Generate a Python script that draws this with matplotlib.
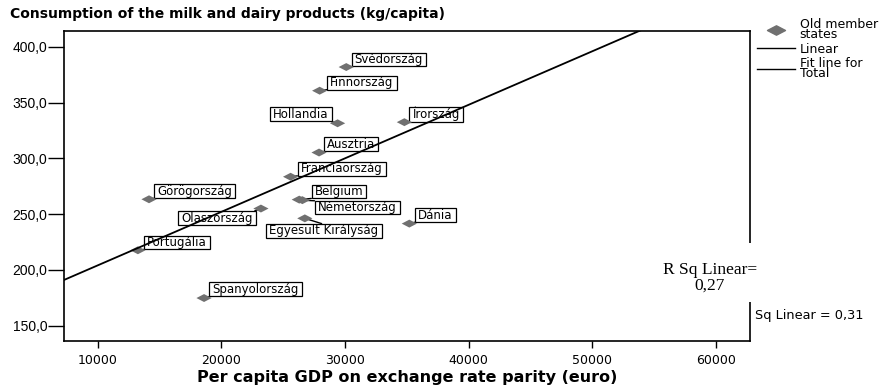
import matplotlib
matplotlib.use("Agg")
import matplotlib.pyplot as plt
from matplotlib.path import Path
from matplotlib.lines import Line2D
from matplotlib.patches import Rectangle
import numpy as np

# --- data -------------------------------------------------------------
countries = ['Svédország', 'Finnország', 'Hollandia', 'Írország', 'Ausztria',
             'Franciaország', 'Belgium', 'Németország', 'Egyesült Királyság',
             'Dánia', 'Görögország', 'Olaszország', 'Portugália', 'Spanyolország']
gdp_euro = [30100, 27950, 29400, 34800, 27900, 25600, 26300, 26550, 26750,
            35200, 14150, 23200, 13250, 18600]
milk_kg = [381.8, 360.6, 331.4, 332.4, 305.2, 283.5, 263.0, 262.5, 246.2,
           241.5, 263.3, 255.0, 217.6, 174.8]

# fit line for the total sample
fit_intercept = 156.1
fit_slope = 0.004797
rsq_old = '0,27'
rsq_total = '0,31'

x_ticks = [10000, 20000, 30000, 40000, 50000, 60000]
x_tick_labels = ['10000', '20000', '30000', '40000', '50000', '60000']
y_ticks = [150, 200, 250, 300, 350, 400]
y_tick_labels = ['150,0', '200,0', '250,0', '300,0', '350,0', '400,0']

# label layout: offset in pixels (dx, dy), text alignment, connector anchor on the box
label_offsets = [(8.4, 7.5), (10.6, 8), (-8.8, 9), (7.8, 8), (7.7, 8.3), (10.2, 7.8),
                 (15.5, 8), (15.7, -7.3), (19.2, -12.5), (8.7, 8.6), (8.1, 8.1),
                 (-8.2, -9.7), (9.2, 7.8), (8.3, 8.8)]
label_align = ['left', 'left', 'right', 'left', 'left', 'left', 'left', 'left',
               'center', 'left', 'left', 'right', 'left', 'left']
label_anchor = [(0, 0), (0, 0), (1, 0), (0, 0), (0, 0), (0, 0), (0, 0), (0, 1),
                (0.5, 1), (0, 0), (0, 0), (1, 1), (0, 0), (0, 0)]

# --- figure -----------------------------------------------------------
W, H = 888, 389
fig = plt.figure(figsize=(W / 100, H / 100), dpi=100)
fig.patch.set_facecolor('white')
ax = fig.add_axes([64 / W, 1 - 341 / H, (750 - 64) / W, (341 - 31) / H])

ax.set_xlim(7275, 62750)
ax.set_ylim(136.3, 414.1)

# flattened diamond marker
diamond = Path([(-1, 0), (0, 0.52), (1, 0), (0, -0.52), (-1, 0)],
               [Path.MOVETO, Path.LINETO, Path.LINETO, Path.LINETO, Path.CLOSEPOLY])
marker_color = '#707070'

sc = ax.scatter(gdp_euro, milk_kg, marker=diamond, s=120, color=marker_color,
                edgecolors='none', zorder=3)

# fit line
xs = np.array(ax.get_xlim())
ax.plot(xs, fit_intercept + fit_slope * xs, color='black', lw=1.3, zorder=4)


def label_box(x0, y0, width, height, mutation_size):
    """Rectangle with side padding and a tight vertical fit."""
    hp, vp = 3.0, 0.3
    xa, xb = x0 - hp, x0 + width + hp
    ya, yb = y0 - vp, y0 + height + vp
    return Path([(xa, ya), (xb, ya), (xb, yb), (xa, yb), (xa, ya)], closed=True)


# point labels
for name, gx, my, (dx, dy), ha, rp in zip(countries, gdp_euro, milk_kg,
                                          label_offsets, label_align, label_anchor):
    ax.annotate(name, xy=(gx, my), xytext=(dx, dy), textcoords='offset pixels',
                ha=ha, va='center', fontsize=8.5, family='DejaVu Sans',
                bbox=dict(boxstyle=label_box, fc='white', ec='black', lw=0.9),
                arrowprops=dict(arrowstyle='-', color='black', lw=1,
                                shrinkA=0, shrinkB=0, relpos=rp),
                zorder=2)

# axes styling
for sp in ax.spines.values():
    sp.set_linewidth(1.2)
ax.set_xticks(x_ticks)
ax.set_xticklabels(x_tick_labels, family='DejaVu Sans', fontsize=9)
ax.set_yticks(y_ticks)
ax.set_yticklabels(y_tick_labels, family='Liberation Sans', fontsize=10)
ax.tick_params(axis='y', length=11.5, width=1, pad=0.5, direction='out')
ax.tick_params(axis='x', length=5, width=1, pad=4, direction='out')

ax.set_xlabel('Per capita GDP on exchange rate parity (euro)', family='DejaVu Sans',
              fontweight='bold', fontsize=11.5, labelpad=2.5)

fig.text(10 / W, 1 - 14 / H, 'Consumption of the milk and dairy products (kg/capita)',
         ha='left', va='center', family='DejaVu Sans', fontweight='bold', fontsize=10)

# legend
handles = [
    Line2D([], [], marker=diamond, markersize=13, color=marker_color, ls='none'),
    Line2D([], [], color='black', lw=1),
    Line2D([], [], color='black', lw=1),
]
labels = ['Old member\nstates', 'Linear', 'Fit line for\nTotal']
leg = fig.legend(handles, labels, loc='upper left', bbox_to_anchor=(757 / W, 1 - 18 / H),
                 frameon=False, prop={'family': 'DejaVu Sans', 'size': 9},
                 handlelength=3.0, handletextpad=0.4, labelspacing=0.12,
                 borderpad=0, borderaxespad=0)
for t in leg.get_texts():
    t.set_linespacing(0.72)

# white panel behind the R squared note, interrupting the right frame
fig.patches.append(Rectangle((650 / W, 1 - 302 / H), 120 / W, 59 / H,
                             transform=fig.transFigure, fc='white', ec='none', zorder=4))
fig.text(710 / W, 1 - 278 / H, 'R Sq Linear=\n' + rsq_old, ha='center', va='center',
         family='Liberation Serif', fontsize=12.5, linespacing=1.0, zorder=5)
fig.text(755 / W, 1 - 315 / H, 'Sq Linear = ' + rsq_total, ha='left', va='center',
         family='DejaVu Sans', fontsize=9.3)

fig.savefig('out.png', dpi=100)
